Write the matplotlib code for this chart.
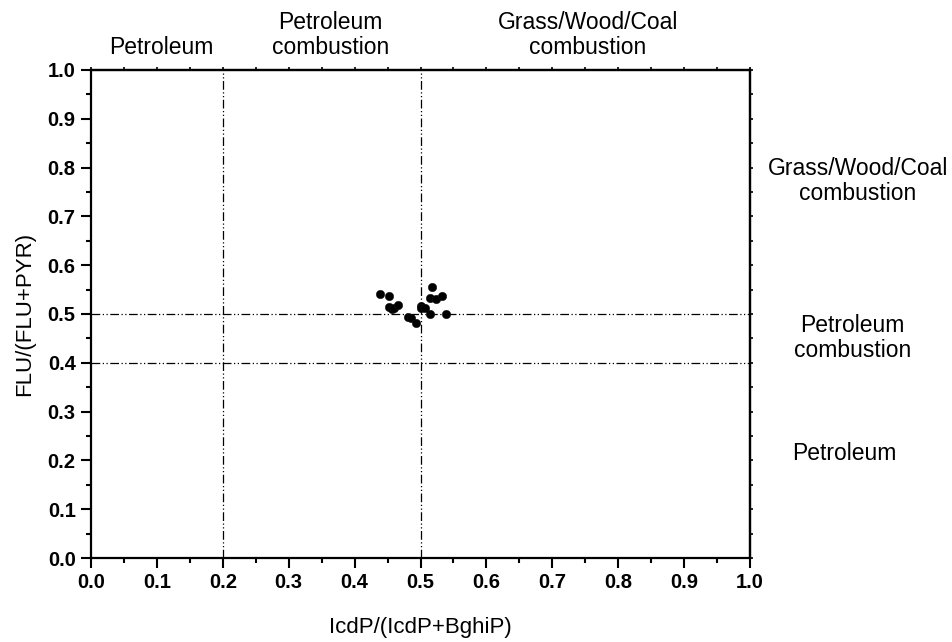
import matplotlib
matplotlib.use("Agg")
import matplotlib.pyplot as plt
from matplotlib.ticker import MultipleLocator

plt.rcParams['font.family'] = ['Liberation Sans', 'DejaVu Sans']

icdp_ratio = [0.439, 0.452, 0.452, 0.457, 0.460, 0.466, 0.481, 0.486, 0.493,
              0.501, 0.500, 0.507, 0.515, 0.517, 0.515, 0.524, 0.533, 0.538]
flu_ratio = [0.540, 0.537, 0.515, 0.510, 0.513, 0.518, 0.494, 0.491, 0.481,
             0.516, 0.512, 0.512, 0.500, 0.556, 0.533, 0.531, 0.537, 0.500]

x_lines = [0.2, 0.5]
y_lines = [0.4, 0.5]
x_ticks = [0.0, 0.1, 0.2, 0.3, 0.4, 0.5, 0.6, 0.7, 0.8, 0.9, 1.0]
y_ticks = [0.0, 0.1, 0.2, 0.3, 0.4, 0.5, 0.6, 0.7, 0.8, 0.9, 1.0]

top_labels = [(0.106, "Petroleum"), (0.363, "Petroleum\ncombustion"),
              (0.754, "Grass/Wood/Coal\ncombustion")]
right_labels = [(1.164, 0.772, "Grass/Wood/Coal\ncombustion"),
                (1.155, 0.45, "Petroleum\ncombustion"),
                (1.143, 0.215, "Petroleum")]

fig = plt.figure(figsize=(9.53, 6.42), dpi=100)
ax = fig.add_axes([0.0955, 0.1308, 0.6915, 0.7603])

dash = (0, (7, 2, 1, 2, 1, 2))
for xv in x_lines:
    ax.axvline(xv, color='black', lw=0.9, linestyle=dash, zorder=1)
for yv in y_lines:
    ax.axhline(yv, color='black', lw=0.9, linestyle=dash, zorder=1)

ax.scatter(icdp_ratio, flu_ratio, s=36, c='black', edgecolors='#111111',
           linewidths=0.4, zorder=3)

ax.set_xlim(0, 1)
ax.set_ylim(0, 1)
ax.set_xticks(x_ticks)
ax.set_yticks(y_ticks)
ax.set_xticklabels([f"{v:.1f}" for v in x_ticks], fontweight='bold', fontsize=14.5)
ax.set_yticklabels([f"{v:.1f}" for v in y_ticks], fontweight='bold', fontsize=14.5)
ax.xaxis.set_minor_locator(MultipleLocator(0.05))
ax.yaxis.set_minor_locator(MultipleLocator(0.05))
ax.tick_params(which='major', direction='out', length=7, width=1.5, pad=4)
ax.tick_params(which='minor', direction='out', length=3.5, width=1.5)
for sp in ax.spines.values():
    sp.set_linewidth(1.6)

ax2x = ax.secondary_xaxis('top')
ax2x.set_xticks(x_ticks)
ax2x.set_xticklabels([])
ax2x.xaxis.set_minor_locator(MultipleLocator(0.05))
ax2x.tick_params(which='both', direction='out', length=2.5, width=1.2)
ax2y = ax.secondary_yaxis('right')
ax2y.set_yticks(y_ticks)
ax2y.set_yticklabels([])
ax2y.yaxis.set_minor_locator(MultipleLocator(0.05))
ax2y.tick_params(which='both', direction='out', length=2.5, width=1.2)
ax2x.spines['top'].set_linewidth(1.6)
ax2y.spines['right'].set_linewidth(1.6)

ax.set_xlabel("IcdP/(IcdP+BghiP)", fontsize=16, labelpad=18)
ax.set_ylabel("FLU/(FLU+PYR)", fontsize=16, labelpad=9)

for xv, txt in top_labels:
    ax.text(xv, 1.023, txt, transform=ax.transAxes, ha='center', va='bottom',
            fontsize=16.5, linespacing=1.1)
for xv, yv, txt in right_labels:
    ax.text(xv, yv, txt, transform=ax.transAxes, ha='center', va='center',
            fontsize=16.5, linespacing=1.1)

fig.savefig("out.png", dpi=100)
